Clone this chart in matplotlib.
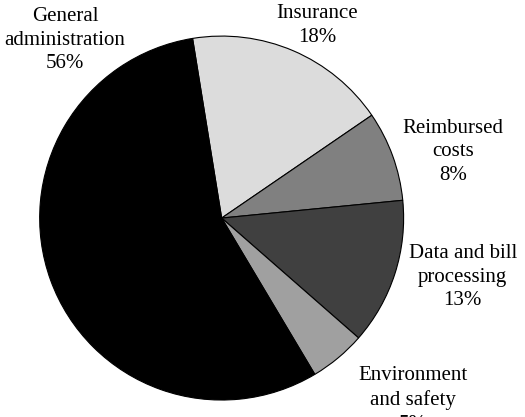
import matplotlib.pyplot as plt

labels = ['Insurance', 'Reimbursed\ncosts', 'Data and bill\nprocessing',
          'Environment\nand safety', 'General\nadministration']
shares = [18, 8, 13, 5, 56]
colors = ['#dcdcdc', '#808080', '#404040', '#a0a0a0', '#000000']

# label centres (layout only), in axes data units
label_pos = [(0.524, 1.060), (1.271, 0.363), (1.325, -0.324),
             (1.051, -1.0), (-0.861, 0.978)]

plt.rcParams['font.family'] = ['Liberation Serif', 'DejaVu Serif']

fig = plt.figure(figsize=(5.25, 4.17), dpi=100)
ax = fig.add_axes([0, 0, 1, 1])
ax.pie(shares, colors=colors, startangle=99.2, counterclock=False,
       wedgeprops=dict(edgecolor='black', linewidth=0.8))

for lab, val, (x, y) in zip(labels, shares, label_pos):
    ax.text(x, y, f'{lab}\n{val}%', ha='center', va='center',
            fontsize=15, linespacing=1.35)

ax.set_xlim(-1.218, 1.667)
ax.set_ylim(-1.093, 1.198)
ax.axis('off')
fig.savefig('out.png', dpi=100)
